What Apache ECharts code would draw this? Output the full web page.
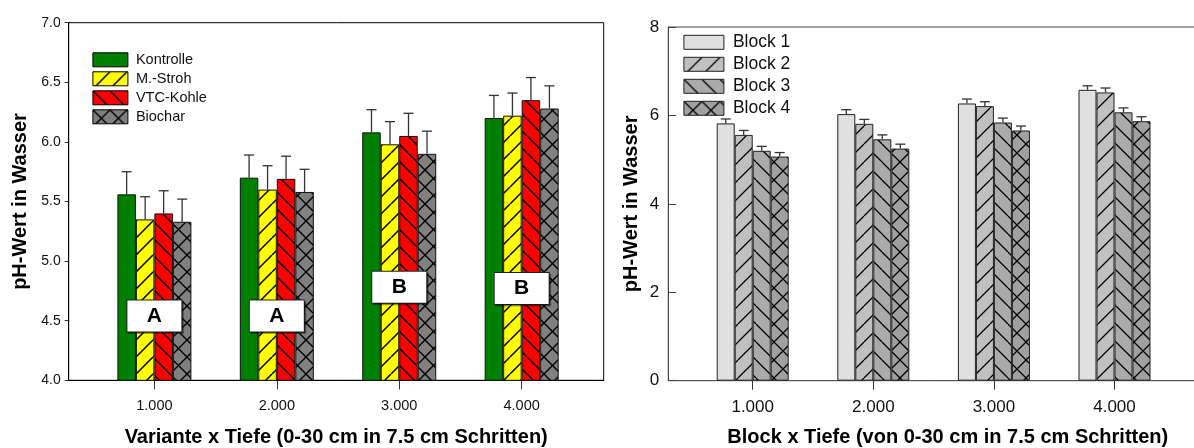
<!DOCTYPE html>
<html>
<head>
<meta charset="utf-8">
<script src="https://cdn.jsdelivr.net/npm/echarts@6/dist/echarts.min.js"></script>
<style>
  html, body { margin: 0; padding: 0; background: #fff; }
  #main { width: 1194px; height: 448px; }
</style>
</head>
<body>
<div id="main"></div>
<script>
// positions on the x axis and the tick texts
var xTicks = [1, 2, 3, 4];
var xTickLabels = ['1.000', '2.000', '3.000', '4.000'];

// left chart: Variante
var varNames = ['Kontrolle', 'M.-Stroh', 'VTC-Kohle', 'Biochar'];
var kontrolle = [5.56, 5.70, 6.08, 6.20];
var mStroh = [5.35, 5.60, 5.98, 6.22];
var vtcKohle = [5.40, 5.69, 6.05, 6.35];
var biochar = [5.33, 5.58, 5.90, 6.28];
var kontrolleErr = [0.19, 0.19, 0.19, 0.19];
var mStrohErr = [0.19, 0.20, 0.19, 0.19];
var vtcKohleErr = [0.19, 0.19, 0.19, 0.19];
var biocharErr = [0.19, 0.19, 0.19, 0.19];
var groupLetters = ['A', 'A', 'B', 'B'];
var letterY = [4.54, 4.54, 4.78, 4.77];

// right chart: Block
var blockNames = ['Block 1', 'Block 2', 'Block 3', 'Block 4'];
var block1 = [5.82, 6.03, 6.27, 6.58];
var block2 = [5.56, 5.81, 6.21, 6.52];
var block3 = [5.20, 5.46, 5.84, 6.07];
var block4 = [5.07, 5.25, 5.66, 5.87];
var block1Err = [0.10, 0.10, 0.10, 0.09];
var block2Err = [0.10, 0.10, 0.10, 0.10];
var block3Err = [0.10, 0.10, 0.10, 0.10];
var block4Err = [0.09, 0.10, 0.10, 0.10];

var FONT = '"Liberation Sans", Arial, sans-serif';

// hatch fill made on a small canvas
function hatch(bg, size, dirs, lw) {
  var c = document.createElement('canvas');
  c.width = c.height = size;
  var ctx = c.getContext('2d');
  ctx.fillStyle = bg;
  ctx.fillRect(0, 0, size, size);
  ctx.strokeStyle = '#000';
  ctx.lineWidth = lw;
  dirs.forEach(function (d) {
    ctx.beginPath();
    for (var o = -size; o <= size; o += size) {
      if (d === '/') { ctx.moveTo(o, size); ctx.lineTo(o + size, 0); }
      else { ctx.moveTo(o, 0); ctx.lineTo(o + size, size); }
    }
    ctx.stroke();
  });
  return { image: c, repeat: 'repeat' };
}

var leftFills = ['#008000', hatch('#ffff00', 17, ['/'], 1.5), hatch('#ff0000', 17, ['\\'], 1.5), hatch('#808080', 17, ['/', '\\'], 1.4)];
var rightFills = ['#e0e0e0', hatch('#c0c0c0', 18, ['/'], 1.3), hatch('#aaaaaa', 18, ['\\'], 1.3), hatch('#a0a0a0', 18, ['/', '\\'], 1.3)];

function bars(name, vals, fill, gi, bw, border) {
  return {
    type: 'bar', name: name, xAxisIndex: gi, yAxisIndex: gi,
    barWidth: bw, barGap: '0%',
    data: xTicks.map(function (x, i) { return [x, vals[i]]; }),
    itemStyle: { color: fill, borderColor: border, borderWidth: 1 },
    z: 2
  };
}

function errBars(vals, errs, k, gi, bw, color) {
  return {
    type: 'custom', name: 'err' + gi + k, xAxisIndex: gi, yAxisIndex: gi,
    data: xTicks.map(function (x, i) { return [x, vals[i], errs[i]]; }),
    encode: { x: 0, y: 1 },
    z: 4, silent: true,
    renderItem: function (params, api) {
      var x = api.value(0), y = api.value(1), e = api.value(2);
      var p0 = api.coord([x, y]);
      var p1 = api.coord([x, y + e]);
      var cx = p0[0] + (k - 1.5) * bw;
      var st = { stroke: color, lineWidth: 1.3 };
      return {
        type: 'group',
        children: [
          { type: 'line', shape: { x1: cx, y1: p0[1], x2: cx, y2: p1[1] }, style: st },
          { type: 'line', shape: { x1: cx - 5, y1: p1[1], x2: cx + 5, y2: p1[1] }, style: st }
        ]
      };
    }
  };
}

var leftVals = [kontrolle, mStroh, vtcKohle, biochar];
var leftErrs = [kontrolleErr, mStrohErr, vtcKohleErr, biocharErr];
var rightVals = [block1, block2, block3, block4];
var rightErrs = [block1Err, block2Err, block3Err, block4Err];

var series = [];
varNames.forEach(function (n, k) {
  series.push(bars(n, leftVals[k], leftFills[k], 0, 18.5, '#111'));
  series.push(errBars(leftVals[k], leftErrs[k], k, 0, 18.5, '#333'));
});
blockNames.forEach(function (n, k) {
  series.push(bars(n, rightVals[k], rightFills[k], 1, 18, '#222'));
  series.push(errBars(rightVals[k], rightErrs[k], k, 1, 18, '#333'));
});
series.push({
  type: 'scatter', xAxisIndex: 0, yAxisIndex: 0, symbolSize: 0, z: 10, silent: true,
  data: xTicks.map(function (x, i) { return [x, letterY[i]]; }),
  itemStyle: { opacity: 1 },
  label: {
    show: true, position: 'inside',
    formatter: function (p) { return groupLetters[p.dataIndex]; },
    width: 54, height: 31, lineHeight: 31, align: 'center', verticalAlign: 'middle',
    backgroundColor: '#fff', borderColor: '#222', borderWidth: 1,
    shadowColor: 'rgba(0,0,0,0.35)', shadowOffsetX: 1.5, shadowOffsetY: 1.5,
    fontSize: 21, fontWeight: 'bold', color: '#000', fontFamily: FONT
  }
});

function xAxis(gi, name, fs, color, nameExtra) {
  return {
    gridIndex: gi, type: 'value', min: 0.3, max: 4.67,
    axisLine: { show: true, lineStyle: { color: color, width: 1 } },
    axisTick: { show: true, customValues: xTicks, length: 9, lineStyle: { color: '#333' } },
    axisLabel: {
      customValues: xTicks, margin: 18, fontSize: fs, color: '#111', fontFamily: FONT,
      formatter: function (v) { return xTickLabels[xTicks.indexOf(v)]; }
    },
    splitLine: { show: false },
    name: name, nameLocation: 'middle', nameGap: 47,
    nameTextStyle: Object.assign({ fontSize: 20, fontWeight: 'bold', color: '#000', fontFamily: FONT }, nameExtra)
  };
}

var option = {
  animation: false,
  backgroundColor: '#fff',
  grid: [
    { left: 68.7, top: 22.7, width: 535, height: 357.6, show: true, borderColor: '#000', borderWidth: 1, outerBoundsMode: 'none', containLabel: false },
    { left: 668.3, top: 27, width: 527, height: 353.7, show: true, borderColor: '#444', borderWidth: 1, outerBoundsMode: 'none', containLabel: false }
  ],
  legend: [
    {
      data: varNames, orient: 'vertical', left: 92.4, top: 52.3, padding: 0,
      itemWidth: 35, itemHeight: 14, itemGap: 4, icon: 'rect',
      itemStyle: { borderColor: '#000', borderWidth: 1 },
      textStyle: { fontSize: 14.5, color: '#111', fontFamily: FONT, padding: [0, 0, 0, 3] }
    },
    {
      data: blockNames, orient: 'vertical', left: 683.4, top: 33.3, padding: 0,
      itemWidth: 40, itemHeight: 14, itemGap: 4, icon: 'rect',
      itemStyle: { borderColor: '#222', borderWidth: 1 },
      textStyle: { fontSize: 17.5, color: '#111', fontFamily: FONT, padding: [0, 0, 0, 4] }
    }
  ],
  xAxis: [
    xAxis(0, 'Variante x Tiefe (0-30 cm in 7.5 cm Schritten)', 14.5, '#000', {}),
    xAxis(1, 'Block x Tiefe (von 0-30 cm in 7.5 cm Schritten)', 17, '#555', { padding: [0, 0, 0, 32] })
  ],
  yAxis: [
    {
      gridIndex: 0, type: 'value', min: 4, max: 7, interval: 0.5,
      axisLine: { show: true, lineStyle: { color: '#000' } },
      axisTick: { show: true, length: 4, lineStyle: { color: '#333' } },
      axisLabel: { margin: 8, fontSize: 14, color: '#111', fontFamily: FONT, formatter: function (v) { return v.toFixed(1); } },
      splitLine: { show: false },
      name: 'pH-Wert in Wasser', nameLocation: 'middle', nameGap: 38,
      nameTextStyle: { fontSize: 20, fontWeight: 'bold', color: '#000', fontFamily: FONT }
    },
    {
      gridIndex: 1, type: 'value', min: 0, max: 8, interval: 2,
      axisLine: { show: true, lineStyle: { color: '#444' } },
      axisTick: { show: true, inside: true, length: 8, lineStyle: { color: '#444' } },
      axisLabel: { margin: 9, fontSize: 17, color: '#111', fontFamily: FONT },
      splitLine: { show: false },
      name: 'pH-Wert in Wasser', nameLocation: 'middle', nameGap: 27,
      nameTextStyle: { fontSize: 20, fontWeight: 'bold', color: '#000', fontFamily: FONT }
    }
  ],
  series: series
};

var chart = echarts.init(document.getElementById('main'));
chart.setOption(option);
</script>
</body>
</html>
